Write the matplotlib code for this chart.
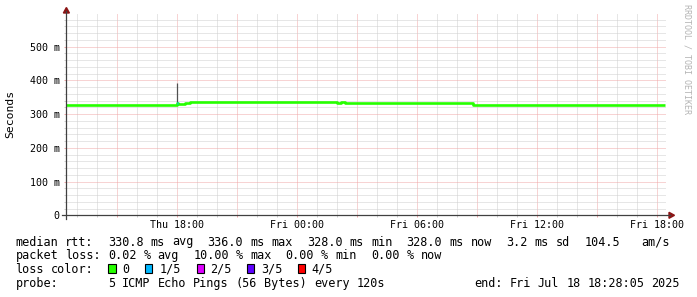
import re

import matplotlib
matplotlib.use("Agg")
import matplotlib.pyplot as plt
import matplotlib.dates as mdates
import pandas as pd
from matplotlib.lines import Line2D
from matplotlib.patches import Polygon, Rectangle
from matplotlib.ticker import MultipleLocator, FixedFormatter, FixedLocator, FuncFormatter

W, H = 697, 297
MONO = "DejaVu Sans Mono"
plt.rcParams["font.family"] = MONO

# --- data ---
START = "2025-07-17 12:28:05"
END = "2025-07-18 18:28:05"

median_times = [
    "2025-07-17 12:28", "2025-07-17 18:00", "2025-07-17 18:03",
    "2025-07-17 18:24", "2025-07-17 18:39", "2025-07-18 02:00",
    "2025-07-18 02:12", "2025-07-18 02:24", "2025-07-18 08:48",
    "2025-07-18 18:24",
]
median_ms = [328, 333, 329, 333, 336, 333, 337, 333, 328, 328]
median_loss = [0, 1, 0, 0, 0, 0, 0, 0, 0, 0]  # index into loss_colors

spike_time = "2025-07-17 18:00"
spike_low_ms = 332
spike_high_ms = 392

loss_labels = ["0", "1/5", "2/5", "3/5", "4/5"]
loss_colors = ["#26ff00", "#00b8ff", "#dd00ff", "#5e00ff", "#ff0000"]

y_ticks_ms = [0, 100, 200, 300, 400, 500]
y_tick_labels = ["0", "100 m", "200 m", "300 m", "400 m", "500 m"]

rtt_line = ("median rtt:  330.8 ms avg  336.0 ms max  328.0 ms min  "
            "328.0 ms now  3.2 ms sd  104.5   am/s")
loss_line = "packet loss: 0.02 % avg  10.00 % max  0.00 % min  0.00 % now"
probe_line = "probe:       5 ICMP Echo Pings (56 Bytes) every 120s"
end_text = "end: Fri Jul 18 18:28:05 2025"

MAJOR = "#f0a8a8"
MINOR = "#cfcfcf"
AXIS = "#404040"
ARROW = "#8b1414"


def fx(px):
    return px / W


def fy(py):
    return 1 - py / H


fig = plt.figure(figsize=(W / 100, H / 100), dpi=100, facecolor="white")
y0, ytop = 215.3, 13.6
ax = fig.add_axes([fx(66.4), fy(y0), 600 / W, (y0 - ytop) / H])
ax.set_facecolor("white")

times = pd.to_datetime(median_times).to_pydatetime()
secs = [v / 1000 for v in median_ms]

ax.vlines(pd.Timestamp(spike_time).to_pydatetime(), spike_low_ms / 1000,
          spike_high_ms / 1000, color="#505050", lw=0.9, zorder=2)
ax.step(times, secs, where="post", color=loss_colors[0], lw=1.9,
        solid_capstyle="butt", zorder=3)
for i, lvl in enumerate(median_loss[:-1]):
    if lvl:
        ax.plot([times[i], times[i + 1]], [secs[i], secs[i]], color=loss_colors[lvl],
                lw=1.9, solid_capstyle="butt", zorder=4)

ax.set_xlim(pd.Timestamp(START).to_pydatetime(), pd.Timestamp(END).to_pydatetime())
ax.set_ylim(0, 0.598)

ax.xaxis.set_major_locator(mdates.HourLocator(byhour=range(0, 24, 3)))
ax.xaxis.set_minor_locator(mdates.HourLocator())


def xfmt(x, pos):
    d = mdates.num2date(x)
    return d.strftime("%a %H:%M") if d.hour % 6 == 0 else ""


ax.xaxis.set_major_formatter(FuncFormatter(xfmt))
ax.yaxis.set_major_locator(FixedLocator([v / 1000 for v in y_ticks_ms]))
ax.yaxis.set_major_formatter(FixedFormatter(y_tick_labels))
ax.yaxis.set_minor_locator(MultipleLocator(0.02))

ax.set_axisbelow(True)
dots = (0, (1, 1))
ax.grid(True, which="minor", color=MINOR, linestyle=dots, linewidth=0.72)
ax.grid(True, which="major", color=MAJOR, linestyle=dots, linewidth=0.72)

for s in ax.spines.values():
    s.set_visible(False)
ax.tick_params(which="major", direction="out", length=1.5, width=0.72, color=MAJOR,
               labelsize=7.2, labelcolor="black")
ax.tick_params(which="minor", direction="out", length=1.5, width=0.72, color=MINOR)
ax.tick_params(axis="x", which="major", pad=2.2)
ax.tick_params(axis="y", which="major", pad=3.2)

# axes lines with arrows
fig.add_artist(Line2D([fx(66.4), fx(66.4)], [fy(218.5), fy(11)], color=AXIS, lw=0.9))
fig.add_artist(Line2D([fx(62), fx(670)], [fy(y0), fy(y0)], color=AXIS, lw=0.9))
fig.add_artist(Polygon([(fx(66.4), fy(7.5)), (fx(63.4), fy(13)), (fx(69.4), fy(13))],
                       closed=True, color=ARROW, transform=fig.transFigure))
fig.add_artist(Polygon([(fx(674.5), fy(y0)), (fx(669), fy(y0 - 3)), (fx(669), fy(y0 + 3))],
                       closed=True, color=ARROW, transform=fig.transFigure))

fig.text(fx(10.5), fy(113.7), "Seconds", rotation=90, ha="center", va="center",
         fontsize=8.2, color="black")
fig.text(fx(687.5), fy(4.5), "RRDTOOL / TOBI OETIKER", rotation=-90, ha="center",
         va="top", fontsize=6.0, color="#b4b4b4")

LEG = 8.5
CW = LEG / 72 * 100 * 0.6021  # monospace cell width in px


def put(x, base, s, ha="left"):
    fig.text(fx(x), fy(base), s, fontsize=LEG, ha=ha, va="baseline", color="black")


def put_line(x, base, line):
    # one text per word, at its monospace column
    for m in re.finditer(r"\S+", line):
        put(x + m.start() * CW, base, m.group())


rows_base = [245.5, 259, 273, 287]
put_line(15.5, rows_base[0], rtt_line)
put_line(15.5, rows_base[1], loss_line)

put_line(15.5, rows_base[2], "loss color:")
sq_x = [108.3, 145, 196.7, 246.7, 298]
lab_x = [122.5, 159.5, 210.5, 261.5, 311.5]
for col, lab, sx, lx in zip(loss_colors, loss_labels, sq_x, lab_x):
    fig.add_artist(Rectangle((fx(sx), fy(273.3)), 7.4 / W, 9.8 / H, facecolor=col,
                             edgecolor="black", lw=0.8, transform=fig.transFigure))
    put(lx, rows_base[2], lab)

put_line(15.5, rows_base[3], probe_line)
end_x = 680 - len(end_text) * CW
put_line(end_x, rows_base[3], end_text)

fig.savefig("out.png", dpi=100, facecolor="white")
